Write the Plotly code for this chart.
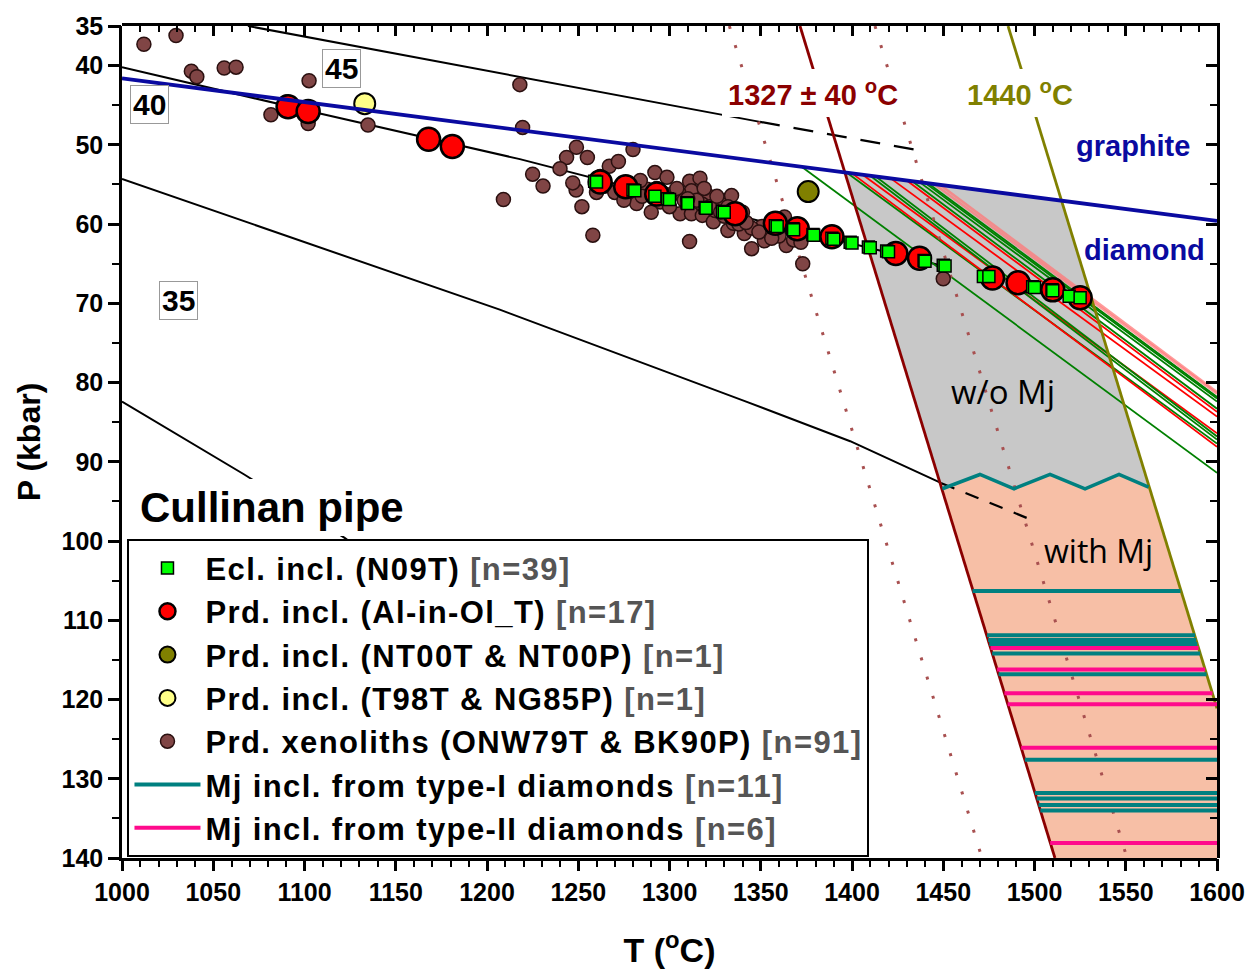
import plotly.graph_objects as go

# ---------------- data ----------------
# Eclogitic inclusions (N09T)
ecl_T = [1259, 1260, 1280, 1281, 1292, 1299, 1300, 1309.6, 1310, 1319.5, 1320, 1329, 1330,
         1358, 1359, 1367.7, 1368, 1378.6, 1379, 1389, 1390, 1399, 1400, 1409, 1410, 1419,
         1420, 1439.5, 1440, 1450, 1451, 1472, 1475, 1499, 1500, 1509.6, 1510, 1519, 1525]
ecl_P = [54.6, 54.7, 55.7, 55.8, 56.5, 56.8, 56.9, 57.3, 57.4, 57.9, 58.0, 58.4, 58.5,
         60.2, 60.3, 60.6, 60.7, 61.3, 61.4, 61.8, 61.9, 62.3, 62.4, 62.9, 63.0, 63.4,
         63.5, 64.6, 64.7, 65.2, 65.3, 66.6, 66.6, 67.9, 68.0, 68.3, 68.4, 69.1, 69.3]

# Peridotitic inclusions (Al-in-Ol_T)
prd_T = [1091, 1102, 1168, 1181, 1262, 1276, 1293, 1336, 1358, 1370, 1389, 1424, 1437,
         1477, 1491, 1510, 1525]
prd_P = [45.2, 45.8, 49.3, 50.2, 54.7, 55.3, 56.2, 58.7, 59.9, 60.6, 61.6, 63.7, 64.3,
         66.8, 67.4, 68.3, 69.3]

nt_T, nt_P = [1376], [55.9]
t98_T, t98_P = [1133], [44.8]

# Peridotite xenoliths (ONW79T & BK90P)
xen_T = [1012, 1029.6, 1038, 1041, 1056, 1062.5, 1081.6, 1090, 1102, 1102.5, 1134.8, 1209,
         1218, 1219.5, 1249, 1243.6, 1255, 1240, 1225, 1230.7, 1248.8, 1252, 1258, 1280,
         1267, 1272, 1260, 1282, 1287.7, 1292, 1298.6, 1295, 1311, 1316.7, 1312, 1305.8,
         1312, 1318, 1321, 1327.7, 1334, 1324, 1332, 1335, 1341, 1345, 1311, 1352, 1350.7,
         1364, 1363, 1373, 1450, 1285, 1290, 1300, 1305, 1318, 1325, 1330, 1338, 1345,
         1355, 1360, 1368, 1372, 1265, 1270, 1275, 1262, 1278, 1293, 1300, 1308, 1315,
         1322, 1328, 1336, 1342, 1349, 1356, 1284, 1296, 1304, 1310, 1319, 1326, 1332,
         1340, 1095, 1247]
xen_P = [37.3, 36.2, 40.7, 41.4, 40.3, 40.2, 46.2, 44.6, 47.3, 41.9, 47.5, 56.9,
         42.4, 47.8, 50.3, 51.6, 51.6, 53.0, 53.7, 55.2, 55.7, 57.8, 61.4, 50.6,
         52.7, 52.1, 56.0, 57.4, 55.6, 53.5, 54.1, 57.2, 54.6, 54.2, 55.8, 58.7,
         58.7, 58.9, 56.4, 57.4, 56.4, 59.7, 60.8, 59.9, 61.2, 63.1, 62.2, 62.1, 60.3,
         62.7, 59.1, 65.0, 66.9, 56.5, 58.5, 57.8, 56.0, 57.5, 58.3, 59.0, 60.0, 60.5,
         61.0, 61.5, 62.0, 62.3, 55.2, 56.0, 57.0, 54.0, 55.0, 55.5, 56.3, 57.0, 57.0,
         57.8, 58.5, 59.2, 59.8, 61.0, 61.8, 54.5, 56.0, 55.5, 56.8, 55.5, 56.5, 57.8,
         58.5, 45.5, 54.8]

# Majorite inclusions: pressure, lower and upper temperature of each bar
mj1_P = [106.3, 111.9, 112.5, 113.0, 114.2, 116.8, 127.6, 131.8, 132.5, 133.3, 134.0]
mj1_Tlo = [1466, 1474, 1474.6, 1475.2, 1476.8, 1480.3, 1494.7, 1500.2, 1501.2, 1502.2, 1503.2]
mj1_Thi = [1580, 1588, 1588.6, 1589.2, 1590.8, 1594.3, 1600, 1600, 1600, 1600, 1600]
mj2_P = [113.5, 116.2, 119.2, 120.6, 126.1, 138.1]
mj2_Tlo = [1475.9, 1479.5, 1483.5, 1485.3, 1492.7, 1508.6]
mj2_Thi = [1589.9, 1593.5, 1597.5, 1600, 1600, 1600]

# Mj-in / Mj-out boundary
zig_T = [1449.5, 1470.1, 1488.8, 1508.5, 1527.7, 1546.3, 1562.5]
zig_P = [93.4, 91.6, 93.4, 91.6, 93.4, 91.6, 93.2]

# Graphite-diamond transition
gd_T = [1000, 1600]
gd_P = [41.6, 59.6]

# Conductive geotherms (mW/m2)
g45_T, g45_P = [1069, 1218, 1349.6], [35.0, 41.4, 47.1]
g45d_T, g45d_P = [1349.6, 1434.5], [47.1, 50.6]
g40_T, g40_P = [1000, 1100, 1218, 1344, 1450], [40.2, 45.6, 51.8, 59.3, 65.3]
g35_T, g35_P = [1000, 1207, 1342, 1399, 1449], [54.3, 70.8, 82.4, 87.4, 92.7]
g35d_T, g35d_P = [1449, 1497], [92.7, 97.2]
g30_T, g30_P = [1000, 1067, 1122, 1352], [82.4, 91.6, 99.6, 139.7]

# Mantle adiabats (T at 35 and 140 kbar)
adi_T = [1371.5, 1511.2]
adi_lo_T = [1332.8, 1471.2]
adi_hi_T = [1412.6, 1550.7]
adi_P = [35, 140]
hot_T, hot_P = [1485.5, 1600], [35, 121.1]

# Fitted P-T arrays: start on the graphite-diamond line, end at 1600 C
arr_T0 = [1372.6, 1397, 1400, 1406, 1410, 1413, 1421, 1430, 1433, 1437, 1440, 1442, 1445, 1448]
arr_P0 = [52.8, 53.5, 53.6, 53.8, 53.9, 54.0, 54.2, 54.5, 54.6, 54.7, 54.8, 54.9, 54.95, 55.0]
arr_P1 = [91.4, 87.7, 88.1, 86.4, 87.2, 86.8, 84.3, 83.7, 83.3, 82.4, 82.0, 81.8, 81.4, 81.2]
arr_kind = ["g", "g", "r", "r", "g", "g", "r", "r", "g", "g", "g", "g", "p", "p"]

# Stability fields
womj_T = [1396.1, 1514.8, 1562.5, 1546.3, 1527.7, 1508.5, 1488.8, 1470.1, 1449.5]
womj_P = [53.5, 57.0, 93.2, 91.6, 93.4, 91.6, 93.4, 91.6, 93.4]
wmj_T = [1449.5, 1470.1, 1488.8, 1508.5, 1527.7, 1546.3, 1562.5, 1600, 1600, 1511.2]
wmj_P = [93.4, 91.6, 93.4, 91.6, 93.4, 91.6, 93.2, 121.1, 140, 140]

x_ticks = list(range(1000, 1601, 50))
y_ticks = [35, 40, 50, 60, 70, 80, 90, 100, 110, 120, 130, 140]
y_minor = [45, 55, 65, 75, 85, 95, 105, 115, 125, 135]

# ---------------- figure ----------------
FONT = "Liberation Sans, Arial, sans-serif"
DARKRED = "#8B0000"
OLIVE = "#808000"
BLUE = "#0A0AA0"
TEAL = "#008080"
PINK = "#FF0A8C"

fig = go.Figure()


def line(x, y, color, width=2, dash="solid", name=None, legend=False, rank=None,
         xaxis="x", yaxis="y"):
    fig.add_trace(go.Scatter(x=x, y=y, mode="lines", name=name, showlegend=legend,
                             legendrank=rank if rank else 1000,
                             xaxis=xaxis, yaxis=yaxis,
                             line=dict(color=color, width=width, dash=dash),
                             hoverinfo="skip"))


def entry(text, n):
    return ("<span style='letter-spacing:1.4px'>" + text +
            " <span style='color:#555555'>[n=" + str(n) + "]</span></span>")


# fields
fig.add_trace(go.Scatter(x=womj_T, y=womj_P, fill="toself", fillcolor="#C8C8C8",
                         mode="none", showlegend=False, hoverinfo="skip"))
fig.add_trace(go.Scatter(x=wmj_T, y=wmj_P, fill="toself", fillcolor="#F7BFA6",
                         mode="none", showlegend=False, hoverinfo="skip"))

# geotherms
line(g45_T, g45_P, "black", 2)
line(g45d_T, g45d_P, "black", 2.2, "20px,14px")
line(g40_T, g40_P, "black", 2)
line(g35_T, g35_P, "black", 2)
line(g35d_T, g35d_P, "black", 2.2, "14px,12px")
line(g30_T, g30_P, "black", 2)

# P-T arrays
colors = {"g": "#008000", "r": "#FF0000", "p": "rgba(255,120,120,0.75)"}
widths = {"g": 1.8, "r": 1.8, "p": 2.6}
for t0, p0, p1, k in zip(arr_T0, arr_P0, arr_P1, arr_kind):
    line([t0, 1600], [p0, p1], colors[k], widths[k])

# adiabats
line(adi_lo_T, adi_P, "#A85050", 3, "3px,17px")
line(adi_hi_T, adi_P, "#A85050", 3, "3px,17px")
line(adi_T, adi_P, DARKRED, 2.8)
line(hot_T, hot_P, OLIVE, 2.8)


def bars(P, lo, hi):
    xs, ys = [], []
    for p, a, b in zip(P, lo, hi):
        xs += [a, b, None]
        ys += [p, p, None]
    return xs, ys


x1, y1 = bars(mj1_P, mj1_Tlo, mj1_Thi)
line(x1, y1, TEAL, 4, name=entry("Mj incl. from type-I diamonds", 11), legend=True, rank=6)
x2, y2 = bars(mj2_P, mj2_Tlo, mj2_Thi)
line(x2, y2, PINK, 4, name=entry("Mj incl. from type-II diamonds", 6), legend=True, rank=7)

# points
fig.add_trace(go.Scatter(
    x=xen_T, y=xen_P, mode="markers", legendrank=5,
    name=entry("Prd. xenoliths (ONW79T & BK90P)", 91),
    marker=dict(color="#804545", size=14, line=dict(color="#2A1010", width=1.5))))
fig.add_trace(go.Scatter(
    x=t98_T, y=t98_P, mode="markers", legendrank=4,
    name=entry("Prd. incl. (T98T & NG85P)", 1),
    marker=dict(color="#FFFF88", size=21, line=dict(color="black", width=2))))
fig.add_trace(go.Scatter(
    x=nt_T, y=nt_P, mode="markers", legendrank=3,
    name=entry("Prd. incl. (NT00T & NT00P)", 1),
    marker=dict(color=OLIVE, size=21, line=dict(color="black", width=2))))
fig.add_trace(go.Scatter(
    x=prd_T, y=prd_P, mode="markers", legendrank=2,
    name=entry("Prd. incl. (Al-in-Ol_T)", 17),
    marker=dict(color="#FF0000", size=23, line=dict(color="black", width=2.5))))

# graphite-diamond line and Mj boundary go on a second subplot stacked over the
# first one; its top and right axes carry the inward ticks of the frame
line(gd_T, gd_P, BLUE, 3.8, xaxis="x2", yaxis="y2")
line(zig_T, zig_P, TEAL, 3.5, xaxis="x2", yaxis="y2")

# eclogite squares sit on a third stacked subplot whose bottom and left axes
# carry the outward ticks
fig.add_trace(go.Scatter(
    x=ecl_T, y=ecl_P, mode="markers", legendrank=1, xaxis="x3", yaxis="y3",
    name=entry("Ecl. incl. (N09T)", 39),
    marker=dict(color="#00FF00", symbol="square", size=12,
                line=dict(color="black", width=1.5))))


# labels
def label(x, y, text, size, color="black", bold=True, bg=None, border=None, pad=1):
    fig.add_annotation(x=x, y=y, text=text, showarrow=False,
                       font=dict(family=FONT, size=size, color=color,
                                 weight="bold" if bold else "normal"),
                       bgcolor=bg, bordercolor=border, borderwidth=1 if border else 0,
                       borderpad=pad)


label(1014.8, 44.9, "40", 30, bg="white", border="#999999", pad=2)
label(1120, 40.4, "45", 30, bg="white", border="#999999", pad=2)
label(1030.7, 69.7, "35", 30, bg="white", border="#999999", pad=2)
label(1378.6, 43.4, "1327 ± 40 <sup>o</sup>C", 29, color=DARKRED, bg="white", pad=6)
label(1492, 43.4, "1440 <sup>o</sup>C", 29, color=OLIVE, bg="white", pad=6)
label(1554, 50.1, "graphite", 29, color=BLUE)
label(1560, 63.3, "diamond", 29, color=BLUE)
fig.add_annotation(x=1482.7, y=81.1, text="w/o Mj", showarrow=False,
                   font=dict(family="Open Sans, sans-serif", size=33, color="black"))
fig.add_annotation(x=1534.8, y=101.2, text="with Mj", showarrow=False,
                   font=dict(family="Open Sans, sans-serif", size=32, color="black"))
label(1082, 95.8, "Cullinan pipe", 42, bg="white", pad=5)

axis_common = dict(showgrid=False, zeroline=False, linecolor="black", linewidth=2.5,
                   tickcolor="black", tickwidth=2.5,
                   tickfont=dict(family=FONT, size=25, color="black", weight="bold"))

frame_common = dict(showticklabels=False, showgrid=False, zeroline=False,
                    domain=[0, 1], tickcolor="black", tickwidth=2.5)

fig.update_layout(
    width=1259, height=976,
    margin=dict(l=122, r=42, t=20, b=118),
    paper_bgcolor="white", plot_bgcolor="rgba(0,0,0,0)",
    font=dict(family=FONT, color="black"),
    xaxis=dict(range=[1000, 1600], tickvals=x_ticks, ticks="outside", ticklen=10,
               anchor="y", domain=[0, 1],
               minor=dict(ticks="outside", dtick=10, tick0=1000, ticklen=6,
                          tickwidth=2, tickcolor="black"),
               title=dict(text="T (<sup>o</sup>C)", standoff=34,
                          font=dict(family=FONT, size=34, weight="bold")),
               **axis_common),
    yaxis=dict(range=[140, 35], tickvals=y_ticks, ticks="outside", ticklen=11,
               anchor="x", domain=[0, 1],
               minor=dict(ticks="outside", tickvals=y_minor, ticklen=7,
                          tickwidth=2, tickcolor="black"),
               title=dict(text="P (kbar)", standoff=12,
                          font=dict(family=FONT, size=32, weight="bold")),
               **axis_common),
    xaxis2=dict(range=[1000, 1600], anchor="y2", side="top", ticks="inside",
                tickvals=x_ticks, ticklen=10, showline=True, linecolor="black",
                linewidth=2.5,
                minor=dict(ticks="inside", dtick=10, tick0=1000, ticklen=6,
                           tickwidth=2, tickcolor="black"),
                **frame_common),
    yaxis2=dict(range=[140, 35], anchor="x2", side="right", ticks="inside",
                tickvals=y_ticks, ticklen=11, showline=True, linecolor="black",
                linewidth=2.5,
                minor=dict(ticks="inside", tickvals=y_minor, ticklen=7,
                           tickwidth=2, tickcolor="black"),
                **frame_common),
    xaxis3=dict(range=[1000, 1600], anchor="y3", side="bottom", ticks="outside",
                tickvals=x_ticks, ticklen=10, showline=False,
                minor=dict(ticks="outside", dtick=10, tick0=1000, ticklen=6,
                           tickwidth=2, tickcolor="black"),
                **frame_common),
    yaxis3=dict(range=[140, 35], anchor="x3", side="left", ticks="outside",
                tickvals=y_ticks, ticklen=11, showline=False,
                minor=dict(ticks="outside", tickvals=y_minor, ticklen=7,
                           tickwidth=2, tickcolor="black"),
                **frame_common),
    legend=dict(x=0.005, y=0.383, xanchor="left", yanchor="top",
                bgcolor="white", bordercolor="black", borderwidth=2,
                font=dict(family=FONT, size=31, color="black", weight="bold"),
                itemwidth=66, tracegroupgap=0),
    showlegend=True,
)

fig.write_html("out.html")
